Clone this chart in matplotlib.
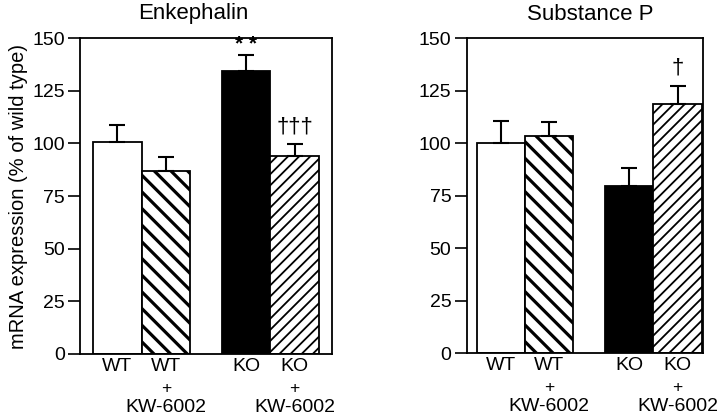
import matplotlib
matplotlib.use("Agg")
import matplotlib.pyplot as plt

plt.rcParams["font.family"] = ["Liberation Sans", "DejaVu Sans"]

# --- data -------------------------------------------------------------
genotype = ["WT", "WT", "KO", "KO"]
treatment = ["", "KW-6002", "", "KW-6002"]

enk_mean = [100.5, 87, 134.5, 94]
enk_err = [8, 6.5, 7.5, 5.5]
enk_marks = ["", "", "* *", "†††"]

sp_mean = [100, 103.5, 79.5, 118.5]
sp_err = [10.5, 6.5, 8.5, 8.5]
sp_marks = ["", "", "", "†"]

yticks = [0, 25, 50, 75, 100, 125, 150]

# --- styles -----------------------------------------------------------
faces = ["white", "white", "black", "white"]
hatches = [None, "\\\\", None, "///"]
hatch_lw = [1.0, 2.3, 1.0, 1.3]


def panel(ax, means, errs, marks, xpos, xlim):
    for i in range(len(means)):
        b = ax.bar(xpos[i], means[i], width=1.0, color=faces[i], edgecolor="black",
                   linewidth=1.3, hatch=hatches[i], zorder=2)
        for p in b:
            if hasattr(p, "set_hatch_linewidth"):
                p.set_hatch_linewidth(hatch_lw[i])
        ax.errorbar(xpos[i], means[i], yerr=[[0], [errs[i]]], fmt="none",
                    ecolor="black", elinewidth=1.5, capsize=5.5, capthick=1.5, zorder=3)
        if "*" in marks[i]:
            ax.text(xpos[i], means[i] + errs[i] + 0.5, marks[i], ha="center",
                    va="bottom", fontsize=15, fontweight="bold")
        elif marks[i]:
            ax.text(xpos[i], means[i] + errs[i] + 3.5, marks[i], ha="center",
                    va="bottom", fontsize=16)
        # "+" and drug name under the genotype label
        if treatment[i]:
            ax.annotate("+", (xpos[i], 0), xycoords=("data", "axes fraction"),
                        xytext=(0, -24.5), textcoords="offset points",
                        ha="center", va="center", fontsize=12.5)
            ax.annotate(treatment[i], (xpos[i], 0), xycoords=("data", "axes fraction"),
                        xytext=(0, -38.2), textcoords="offset points",
                        ha="center", va="center", fontsize=14)
    ax.set_xlim(*xlim)
    ax.set_ylim(0, 150)
    ax.set_yticks(yticks)
    ax.set_xticks(xpos)
    ax.set_xticklabels(genotype, fontsize=14)
    ax.tick_params(axis="x", length=0, pad=3)
    ax.tick_params(axis="y", direction="out", length=9, width=1.2, labelsize=14, pad=2)
    for s in ax.spines.values():
        s.set_linewidth(1.3)


fig = plt.figure(figsize=(7.2, 4.15), dpi=100)
ax1 = fig.add_axes([0.1111, 0.147, 0.35, 0.7614])
ax2 = fig.add_axes([0.6481, 0.1487, 0.3278, 0.7597])

panel(ax1, enk_mean, enk_err, enk_marks, [0.77, 1.77, 3.43, 4.43], (0, 5.2))
panel(ax2, sp_mean, sp_err, sp_marks, [0.71, 1.71, 3.37, 4.37], (0, 4.89))

ax1.set_ylabel("mRNA expression (% of wild type)", fontsize=14.5, labelpad=3)

fig.text(193 / 720, 1 - 14 / 415, "Enkephalin", ha="center", va="center", fontsize=16)
fig.text(590 / 720, 1 - 14 / 415, "Substance P", ha="center", va="center", fontsize=16)

fig.savefig("out.png", dpi=100)
